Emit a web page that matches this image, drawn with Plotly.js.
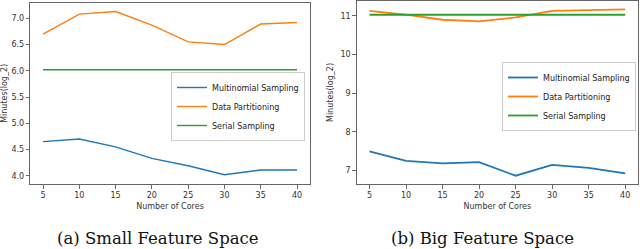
<!DOCTYPE html>
<html>
<head>
<meta charset="utf-8">
<script src="https://cdn.plot.ly/plotly-3.0.1.min.js"></script>
<style>
  html, body { margin: 0; padding: 0; background: #fff; }
  #chart { width: 640px; height: 249px; }
</style>
</head>
<body>
<div id="chart"></div>
<script>
// Number of cores (x axis)
const cores = [5, 10, 15, 20, 25, 30, 35, 40];

// (a) Small feature space, minutes (log_2)
const smallMultinomial = [4.65, 4.70, 4.55, 4.33, 4.19, 4.02, 4.11, 4.11];
const smallPartition   = [6.70, 7.08, 7.13, 6.87, 6.55, 6.50, 6.89, 6.92];
const smallSerial      = [6.02, 6.02, 6.02, 6.02, 6.02, 6.02, 6.02, 6.02];

// (b) Big feature space, minutes (log_2)
const bigMultinomial = [7.50, 7.25, 7.19, 7.22, 6.87, 7.15, 7.07, 6.93];
const bigPartition   = [11.13, 11.03, 10.90, 10.86, 10.96, 11.13, 11.15, 11.17];
const bigSerial      = [11.03, 11.03, 11.03, 11.03, 11.03, 11.03, 11.03, 11.03];

const seriesNames = ['Multinomial Sampling', 'Data Partitioning', 'Serial Sampling'];
const colors = ['#1f77b4', '#ff7f0e', '#2ca02c'];

const xTicks = [5, 10, 15, 20, 25, 30, 35, 40];
const yTicksSmall = [4.0, 4.5, 5.0, 5.5, 6.0, 6.5, 7.0];
const yTicksBig = [7, 8, 9, 10, 11];

const captions = ['(a) Small Feature Space', '(b) Big Feature Space'];
const xTitle = 'Number of Cores';
const yTitle = 'Minutes(log_2)';

function mk(y, i, xa, ya, leg, w) {
  return {
    x: cores, y: y, type: 'scatter', mode: 'lines',
    name: seriesNames[i], line: {color: colors[i], width: w},
    xaxis: xa, yaxis: ya, legend: leg
  };
}

const traces = [
  mk(smallMultinomial, 0, 'x', 'y', 'legend', 1.4),
  mk(smallPartition, 1, 'x', 'y', 'legend', 1.4),
  mk(smallSerial, 2, 'x', 'y', 'legend', 1.4),
  mk(bigMultinomial, 0, 'x2', 'y2', 'legend2', 1.8),
  mk(bigPartition, 1, 'x2', 'y2', 'legend2', 1.8),
  mk(bigSerial, 2, 'x2', 'y2', 'legend2', 1.8)
];

const tickFont = {family: 'DejaVu Sans', size: 8, color: '#333'};
const axCommon = {
  showline: true, mirror: true, linecolor: '#666', linewidth: 1,
  showgrid: false, zeroline: false, ticks: 'outside', ticklen: 3.5,
  tickcolor: '#666', tickwidth: 1, tickfont: tickFont, automargin: false
};

const legCommon = {
  bgcolor: 'rgba(255,255,255,0.8)', bordercolor: '#cccccc', borderwidth: 1,
  font: {family: 'DejaVu Sans', size: 8, color: '#222'},
  xanchor: 'right', yanchor: 'top', tracegroupgap: 0, itemwidth: 30
};

const captionFont = {family: 'DejaVu Serif', size: 16.5, color: '#111'};

const layout = {
  width: 640, height: 249,
  margin: {l: 0, r: 0, t: 0, b: 0},
  paper_bgcolor: '#fff', plot_bgcolor: '#fff',
  showlegend: true,
  xaxis: Object.assign({}, axCommon, {
    domain: [30.3/640, 309.7/640], range: [3.25, 41.75],
    tickvals: xTicks, anchor: 'y',
    title: {text: xTitle, font: {family: 'DejaVu Sans', size: 8, color: '#333'}, standoff: 4}
  }),
  yaxis: Object.assign({}, axCommon, {
    domain: [1 - 184/249, 1 - 2.7/249], range: [3.843, 7.297],
    tickvals: yTicksSmall, ticktext: yTicksSmall.map(v => v.toFixed(1)), anchor: 'x',
    title: {text: yTitle, font: {family: 'DejaVu Sans', size: 8, color: '#333'}, standoff: 3}
  }),
  xaxis2: Object.assign({}, axCommon, {
    domain: [356.7/640, 638/640], range: [3.25, 41.75],
    tickvals: xTicks, anchor: 'y2',
    title: {text: xTitle, font: {family: 'DejaVu Sans', size: 8, color: '#333'}, standoff: 4}
  }),
  yaxis2: Object.assign({}, axCommon, {
    domain: [1 - 184/249, 1 - 1/249], range: [6.655, 11.385],
    tickvals: yTicksBig, anchor: 'x2',
    title: {text: yTitle, font: {family: 'DejaVu Sans', size: 8, color: '#333'}, standoff: 5}
  }),
  legend: Object.assign({}, legCommon, {x: 305/640, y: 1 - 72/249}),
  legend2: Object.assign({}, legCommon, {x: 636/640, y: 1 - 62/249}),
  annotations: [
    {text: captions[0], xref: 'paper', yref: 'paper', x: 158/640, y: 1 - 238/249,
     xanchor: 'center', yanchor: 'middle', showarrow: false, font: captionFont},
    {text: captions[1], xref: 'paper', yref: 'paper', x: 482.5/640, y: 1 - 238/249,
     xanchor: 'center', yanchor: 'middle', showarrow: false, font: captionFont}
  ]
};

Plotly.newPlot('chart', traces, layout, {staticPlot: true, displayModeBar: false});
</script>
</body>
</html>
